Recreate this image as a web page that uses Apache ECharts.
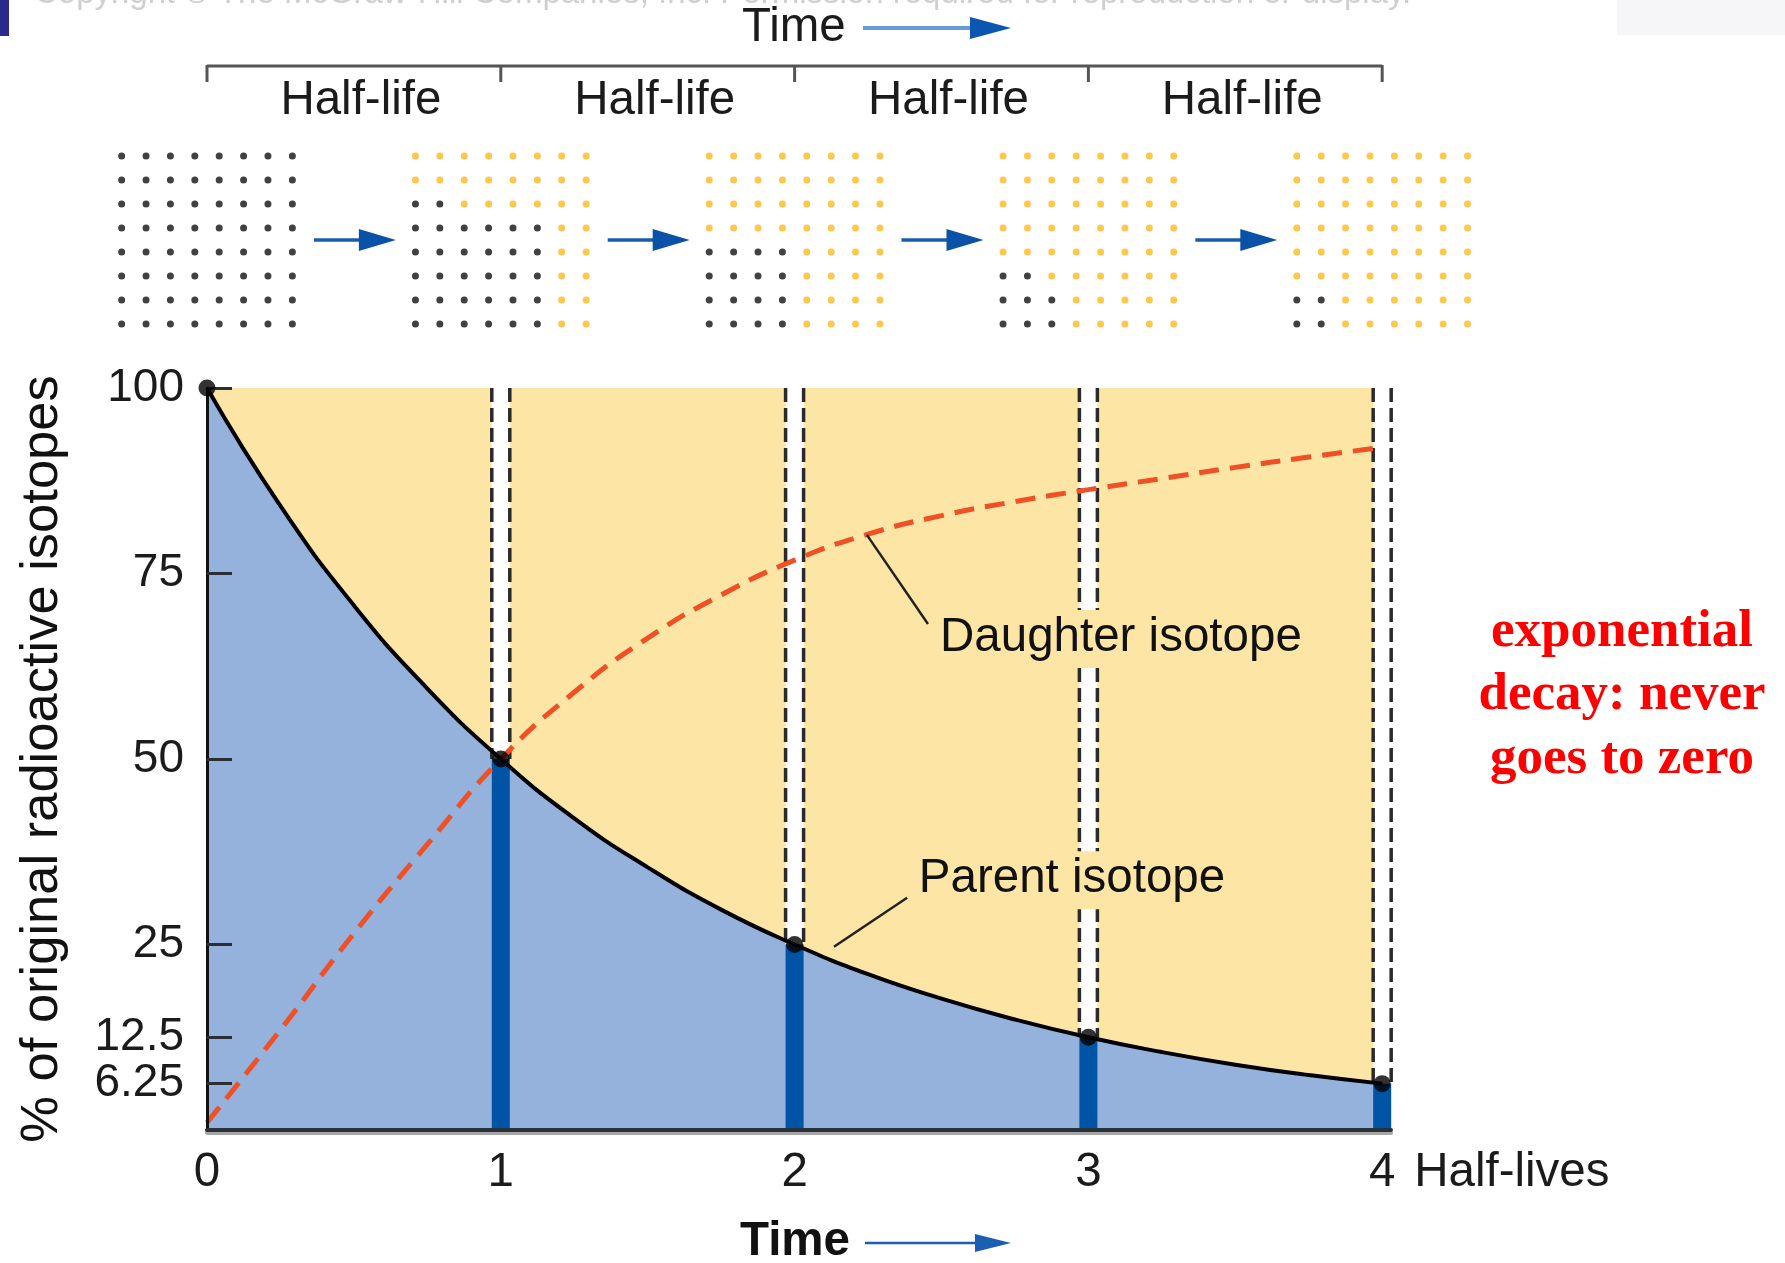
<!DOCTYPE html>
<html>
<head>
<meta charset="utf-8">
<script src="https://cdn.jsdelivr.net/npm/echarts@6/dist/echarts.min.js"></script>
<style>
  html, body { margin: 0; padding: 0; background: #ffffff; }
  #chart { width: 1785px; height: 1263px; }
</style>
</head>
<body>
<div id="chart"></div>
<script>
// ---- data -------------------------------------------------------------
const halfLives = [0, 1, 2, 3, 4];
const parentAtHalfLife = [100, 50, 25, 12.5, 6.25];
const yTickValues = [6.25, 12.5, 25, 50, 75, 100];
const segmentLabels = ['Half-life', 'Half-life', 'Half-life', 'Half-life'];

// sampled curves, % of original radioactive isotopes
const curveX      = [0, 0.25, 0.5, 0.75, 1, 1.25, 1.5, 1.75, 2, 2.25, 2.5, 2.75, 3, 3.25, 3.5, 3.75, 4];
const parentPct   = [100, 84.1, 70.7, 59.5, 50, 42.0, 35.4, 29.7, 25, 21.0, 17.7, 14.9, 12.5, 10.5, 8.8, 7.4, 6.25];
const daughterPct = [1, 13.5, 26.5, 38.5, 50, 59, 66.3, 72.1, 76.8, 80.3, 82.8, 84.7, 86.3, 87.8, 89.3, 90.7, 92];

// 8x8 atom grids after each half-life: P = parent atom, D = daughter atom
const atomGrids = [
  ['PPPPPPPP','PPPPPPPP','PPPPPPPP','PPPPPPPP','PPPPPPPP','PPPPPPPP','PPPPPPPP','PPPPPPPP'],
  ['DDDDDDDD','DDDDDDDD','PPDDDDDD','PPPPPPDD','PPPPPPDD','PPPPPPDD','PPPPPPDD','PPPPPPDD'],
  ['DDDDDDDD','DDDDDDDD','DDDDDDDD','DDDDDDDD','PPPPDDDD','PPPPDDDD','PPPPDDDD','PPPPDDDD'],
  ['DDDDDDDD','DDDDDDDD','DDDDDDDD','DDDDDDDD','DDDDDDDD','PPDDDDDD','PPPDDDDD','PPPDDDDD'],
  ['DDDDDDDD','DDDDDDDD','DDDDDDDD','DDDDDDDD','DDDDDDDD','DDDDDDDD','PPDDDDDD','PPDDDDDD']
];

// ---- styling ----------------------------------------------------------
const SANS = '"Liberation Sans", Arial, sans-serif';
const SERIF = '"Liberation Serif", "Times New Roman", serif';
const FS = 47.5;
const YELLOW = '#FDE5A6';
const LIGHT_BLUE = '#95B2DD';
const DARK_BLUE = '#0054A6';
const ORANGE = '#F05026';
const ATOM_YELLOW = '#FFB81F';
const ATOM_STEP = 0.083;   // column spacing of atom grids, in half-life units

const parentAtoms = [];
const daughterAtoms = [];
atomGrids.forEach((rows, k) => {
  rows.forEach((row, r) => {
    row.split('').forEach((ch, c) => {
      const pt = [halfLives[k] + (c - 3.5) * ATOM_STEP, r];
      (ch === 'P' ? parentAtoms : daughterAtoms).push(pt);
    });
  });
});

const parentCurve = curveX.map((x, i) => [x, parentPct[i]]);
const daughterCurve = curveX.map((x, i) => [x, daughterPct[i]]);
const halfLifePoints = halfLives.map((x, i) => [x, parentAtHalfLife[i]]);

const chart = echarts.init(document.getElementById('chart'));

chart.setOption({
  animation: false,
  backgroundColor: '#ffffff',
  grid: [
    { left: 207, right: 394, top: 388, bottom: 133 },
    { left: 207, right: 394, top: 156, height: 168 }
  ],
  xAxis: [
    {
      type: 'value', gridIndex: 0, min: 0, max: 4.03, interval: 1, z: 10,
      axisLine: { show: true, lineStyle: { color: '#2b3138', width: 4,
        shadowColor: 'rgba(0,0,0,0.35)', shadowOffsetY: 3 } },
      axisTick: { show: false },
      splitLine: { show: false },
      axisLabel: {
        margin: 19, fontSize: FS, fontFamily: SANS, color: '#1b1b1b',
        formatter: v => (Number.isInteger(v) ? String(v) : '')
      }
    },
    { type: 'value', gridIndex: 1, min: 0, max: 4.03, show: false }
  ],
  yAxis: [
    {
      type: 'value', gridIndex: 0, min: 0, max: 100, z: 10,
      axisLine: { show: true, lineStyle: { color: '#111', width: 3 } },
      axisTick: { show: true, inside: true, length: 25, customValues: yTickValues,
        lineStyle: { color: '#2a2f36', width: 3 } },
      splitLine: { show: false },
      axisLabel: { customValues: yTickValues, margin: 23, fontSize: 46,
        fontFamily: SANS, color: '#1b1b1b' },
      name: '% of original radioactive isotopes',
      nameLocation: 'middle', nameRotate: 90, nameGap: 138,
      nameTextStyle: { fontSize: 52.5, fontFamily: SANS, color: '#111' }
    },
    { type: 'value', gridIndex: 1, min: 0, max: 7, inverse: true, show: false }
  ],
  series: [
    { // daughter-isotope region (everything above the parent curve)
      type: 'line', z: 1, silent: true, symbol: 'none',
      data: [[0, 100], [4, 100]],
      lineStyle: { width: 0 }, areaStyle: { color: YELLOW, opacity: 1 }
    },
    { // parent-isotope region
      type: 'line', z: 2, silent: true, symbol: 'none', smooth: true,
      data: parentCurve,
      lineStyle: { width: 0 }, areaStyle: { color: LIGHT_BLUE, opacity: 1 }
    },
    { // markers at each half-life: remaining parent bar, white gap with dashed edges
      type: 'custom', z: 3, silent: true,
      data: halfLifePoints.slice(1),
      renderItem: (params, api) => {
        const k = api.value(0), p = api.value(1);
        const top = api.coord([k, 100]);
        const mid = api.coord([k, p]);
        const bot = api.coord([k, 0]);
        const hw = 9;
        const dash = { stroke: '#2a2a2a', lineWidth: 3.5, lineDash: [14, 6] };
        return {
          type: 'group',
          children: [
            { type: 'rect', shape: { x: top[0] - hw, y: top[1], width: 2 * hw, height: mid[1] - top[1] },
              style: { fill: '#ffffff' } },
            { type: 'rect', shape: { x: mid[0] - hw, y: mid[1], width: 2 * hw, height: bot[1] - mid[1] },
              style: { fill: DARK_BLUE } },
            { type: 'line', shape: { x1: top[0] - hw, y1: top[1], x2: top[0] - hw, y2: mid[1] }, style: dash },
            { type: 'line', shape: { x1: top[0] + hw, y1: top[1], x2: top[0] + hw, y2: mid[1] }, style: dash }
          ]
        };
      }
    },
    { // daughter isotope
      name: 'Daughter isotope', type: 'line', z: 4, silent: true, symbol: 'none', smooth: true,
      data: daughterCurve,
      lineStyle: { color: ORANGE, width: 5, type: [20, 11] }
    },
    { // parent isotope
      name: 'Parent isotope', type: 'line', z: 5, silent: true, symbol: 'none', smooth: true,
      data: parentCurve,
      lineStyle: { color: '#000', width: 4 }
    },
    {
      type: 'scatter', z: 20, silent: true, symbolSize: 17,
      data: halfLifePoints, itemStyle: { color: '#000' }
    },
    {
      type: 'scatter', xAxisIndex: 1, yAxisIndex: 1, silent: true, clip: false, symbolSize: 7,
      data: parentAtoms, itemStyle: { color: '#111' }
    },
    {
      type: 'scatter', xAxisIndex: 1, yAxisIndex: 1, silent: true, clip: false, symbolSize: 7,
      data: daughterAtoms, itemStyle: { color: ATOM_YELLOW }
    }
  ]
});

// ---- decorations placed through the chart's own scales ---------------
const px = (x, y) => chart.convertToPixel({ gridIndex: 0 }, [x, y]);
const atomRowY = chart.convertToPixel({ gridIndex: 1 }, [0, 3.5])[1];

function arrow(x1, x2, y, headLen, headHalf, lineW, lineColor, headColor) {
  return [
    { type: 'line', z: 50, shape: { x1: x1, y1: y, x2: x2 - headLen + 2, y2: y },
      style: { stroke: lineColor, lineWidth: lineW } },
    { type: 'polygon', z: 50,
      shape: { points: [[x2 - headLen, y - headHalf], [x2, y], [x2 - headLen, y + headHalf]] },
      style: { fill: headColor } }
  ];
}
function text(str, x, y, font, fill, align, vAlign) {
  return { type: 'text', z: 60, style: { text: str, x: x, y: y, font: font, fill: fill,
    textAlign: align || 'left', textVerticalAlign: vAlign || 'middle' } };
}

const g = [];
const LABEL_FONT = FS + 'px ' + SANS;

// header strip
g.push({ type: 'rect', z: 50, shape: { x: 0, y: 0, width: 9, height: 36 }, style: { fill: '#2b2a8c' } });
g.push({ type: 'rect', z: 50, shape: { x: 1617, y: 0, width: 168, height: 35 }, style: { fill: '#f6f6f8' } });
g.push(text('Copyright \u00A9 The McGraw-Hill Companies, Inc. Permission required for reproduction or display.',
  34, 10, '33px ' + SANS, '#cfcfcf', 'left', 'bottom'));

// top time arrow
g.push(text('Time', 742, 28, LABEL_FONT, '#1b1b1b'));
g.push(...arrow(863, 1011, 28, 41, 11, 4, '#6a9ad8', '#0a56b0'));

// half-life bracket
const yBracket = 66;
g.push({ type: 'line', z: 50, shape: { x1: px(0, 0)[0], y1: yBracket, x2: px(4, 0)[0], y2: yBracket },
  style: { stroke: '#555', lineWidth: 3 } });
halfLives.forEach(k => {
  const x = px(k, 0)[0];
  g.push({ type: 'line', z: 50, shape: { x1: x, y1: yBracket - 1, x2: x, y2: yBracket + 16 },
    style: { stroke: '#555', lineWidth: 3 } });
});
segmentLabels.forEach((s, i) => {
  g.push(text(s, px(i + 0.5, 0)[0] + 7, 101, LABEL_FONT, '#1b1b1b', 'center'));
});

// arrows between atom grids
for (let k = 0; k < 4; k++) {
  const c = px(k + 0.5, 0)[0];
  g.push(...arrow(c - 40, c + 42, atomRowY, 37, 11, 3.5, '#1a5cab', '#0a52a8'));
}

// curve call-outs
const dA = px(2.246, 80.2), dB = px(2.454, 68.2), dT = px(2.495, 66.3);
g.push({ type: 'line', z: 55, shape: { x1: dA[0], y1: dA[1], x2: dB[0], y2: dB[1] },
  style: { stroke: '#222', lineWidth: 2.5 } });
g.push({ type: 'rect', z: 55, shape: { x: dT[0] - 4, y: dT[1] - 28, width: 370, height: 58 },
  style: { fill: YELLOW } });
g.push(text('Daughter isotope', dT[0], dT[1], LABEL_FONT, '#111'));

const pA = px(2.383, 31.3), pB = px(2.134, 24.7), pT = px(2.423, 33.8);
g.push({ type: 'line', z: 55, shape: { x1: pA[0], y1: pA[1], x2: pB[0], y2: pB[1] },
  style: { stroke: '#222', lineWidth: 2.5 } });
g.push({ type: 'rect', z: 55, shape: { x: pT[0] - 4, y: pT[1] - 28, width: 326, height: 58 },
  style: { fill: YELLOW } });
g.push(text('Parent isotope', pT[0], pT[1], LABEL_FONT, '#111'));

// x-axis unit and bottom time arrow
const x4 = px(4, 0);
g.push(text('Half-lives', x4[0] + 32, x4[1] + 43, LABEL_FONT, '#1b1b1b'));
g.push(text('Time', 740, 1242, 'bold ' + LABEL_FONT, '#111'));
g.push(...arrow(865, 1011, 1243, 36, 9, 2.5, '#1b5fb5', '#1b5fb5'));

// note on the right
['exponential', 'decay: never', 'goes to zero'].forEach((s, i) => {
  g.push(text(s, 1622, 632 + i * 63.5, 'bold 53px ' + SERIF, '#ff0000', 'center'));
});

chart.setOption({ graphic: { elements: g } });
</script>
</body>
</html>
